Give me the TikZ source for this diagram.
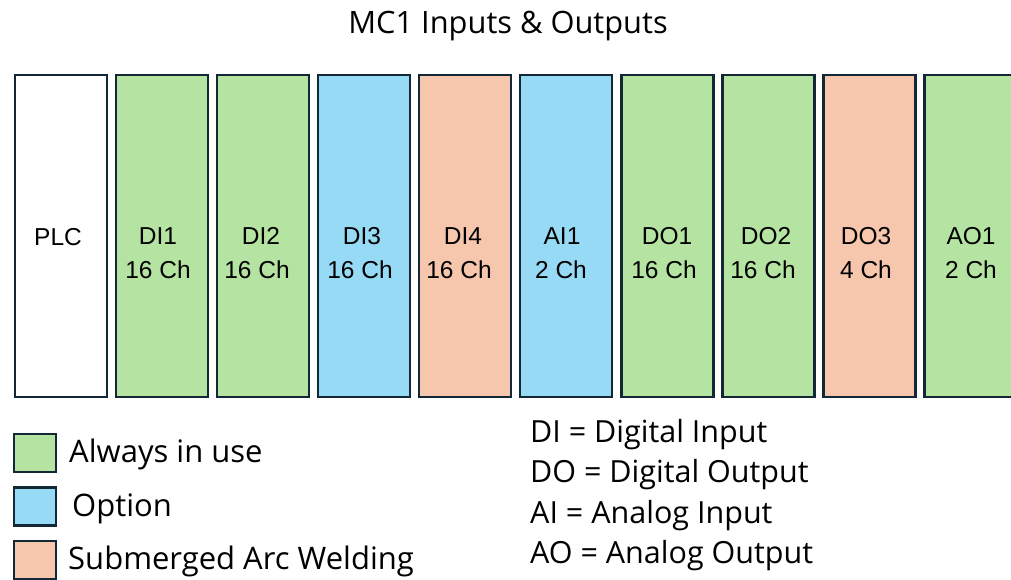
\documentclass[tikz,border=0pt]{standalone}
\usepackage{fontspec}
\setmainfont{Open Sans}
\newfontfamily\boxfont{Liberation Sans}
\definecolor{bord}{RGB}{18,40,54}
\definecolor{cgreen}{RGB}{181,228,162}
\definecolor{cblue}{RGB}{151,218,245}
\definecolor{cpeach}{RGB}{246,198,173}
\tikzset{
  iobox/.style={draw=bord, line width=2.6pt, minimum width=92pt, minimum height=322pt, inner sep=0pt, anchor=north west},
  boxtxt/.style={font=\boxfont\fontsize{24.5}{24.5}\selectfont, inner sep=0pt, anchor=base},
  legbox/.style={draw=bord, line width=2.6pt, minimum width=42pt, minimum height=38pt, inner sep=0pt, anchor=north west},
  legtxt/.style={font=\fontsize{31}{31}\selectfont, inner sep=0pt, anchor=base west},
  abbtxt/.style={font=\fontsize{30.5}{30.5}\selectfont, inner sep=0pt, anchor=base west},
}
\begin{document}
\begin{tikzpicture}[x=1pt,y=-1pt]
\useasboundingbox (0,0) rectangle (1011,579);
\clip (0,0) rectangle (1011,579);
\node[font=\fontsize{30.8}{30.8}\selectfont, inner sep=0pt, anchor=base] (title) at (508,33) {MC1 Inputs \& Outputs};
% boxes
\node[iobox, fill=white]  (b0) at (13.5,73.5) {};
\node[iobox, fill=cgreen] (b1) at (114.5,73.5) {};
\node[iobox, fill=cgreen] (b2) at (215.5,73.5) {};
\node[iobox, fill=cblue]  (b3) at (316.5,73.5) {};
\node[iobox, fill=cpeach] (b4) at (417.5,73.5) {};
\node[iobox, fill=cblue]  (b5) at (518.5,73.5) {};
\node[iobox, fill=cgreen] (b6) at (620,73.5) {};
\node[iobox, fill=cgreen] (b7) at (721,73.5) {};
\node[iobox, fill=cpeach] (b8) at (822,73.5) {};
\node[iobox, fill=cgreen, minimum width=97pt] (b9) at (923,73.5) {};
% texts
\node[boxtxt] (t0) at (58,245) {PLC};
\node[boxtxt] (t1a) at (158,244) {DI1};
\node[boxtxt] (t1b) at (158,278) {16 Ch};
\node[boxtxt] (t2a) at (261,244) {DI2};
\node[boxtxt] (t2b) at (257,278) {16 Ch};
\node[boxtxt] (t3a) at (362,244) {DI3};
\node[boxtxt] (t3b) at (360,278) {16 Ch};
\node[boxtxt] (t4a) at (463,244) {DI4};
\node[boxtxt] (t4b) at (459,278) {16 Ch};
\node[boxtxt] (t5a) at (562,244) {AI1};
\node[boxtxt] (t5b) at (561,278) {2 Ch};
\node[boxtxt] (t6a) at (667,244) {DO1};
\node[boxtxt] (t6b) at (664,278) {16 Ch};
\node[boxtxt] (t7a) at (766,244) {DO2};
\node[boxtxt] (t7b) at (763,278) {16 Ch};
\node[boxtxt] (t8a) at (866,244) {DO3};
\node[boxtxt] (t8b) at (866,278) {4 Ch};
\node[boxtxt] (t9a) at (971,244) {AO1};
\node[boxtxt] (t9b) at (971,278) {2 Ch};
% legend
\node[legbox, fill=cgreen] (l1) at (12.5,432.5) {};
\node[legbox, fill=cblue]  (l2) at (12.5,486) {};
\node[legbox, fill=cpeach] (l3) at (12.5,539.5) {};
\node[legtxt] (lt1) at (69,462) {Always in use};
\node[legtxt] (lt2) at (72,516) {Option};
\node[legtxt] (lt3) at (68,569) {Submerged Arc Welding};
% abbreviations
\node[abbtxt] (a1) at (530,442) {DI = Digital Input};
\node[abbtxt] (a2) at (530,482) {DO = Digital Output};
\node[abbtxt] (a3) at (530,523) {AI = Analog Input};
\node[abbtxt] (a4) at (530,563) {AO = Analog Output};
\end{tikzpicture}
\end{document}
